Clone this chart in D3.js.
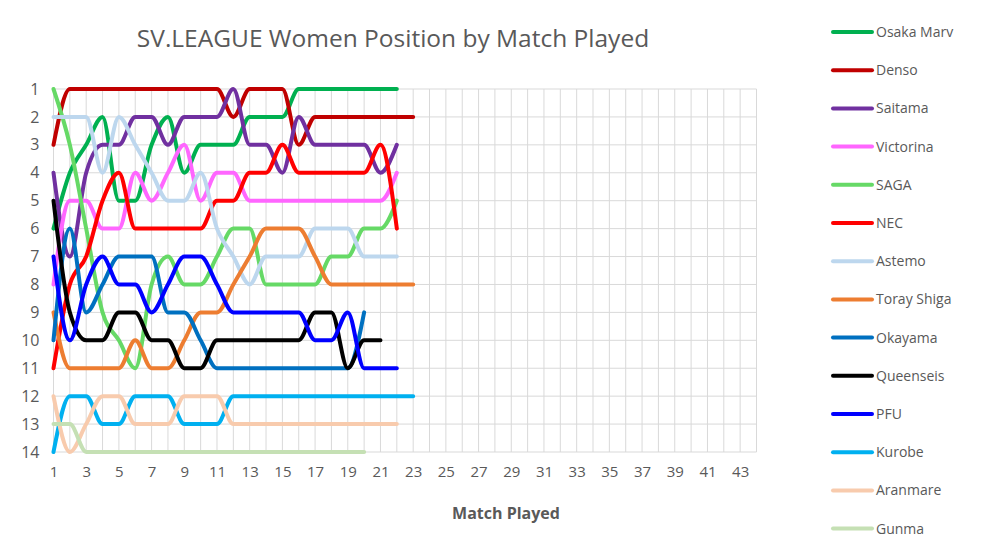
<!DOCTYPE html>
<html>
<head>
<meta charset="utf-8">
<script src="https://cdn.jsdelivr.net/npm/d3@7"></script>
<style>
  html, body { margin: 0; padding: 0; background: #ffffff; }
  svg { display: block; }
</style>
</head>
<body>
<svg id="chart" width="1000" height="559"></svg>
<script>
// ---- data ----
const title = "SV.LEAGUE Women Position by Match Played";
const xTitle = "Match Played";
const teams = ["Osaka Marv", "Denso", "Saitama", "Victorina", "SAGA", "NEC", "Astemo",
               "Toray Shiga", "Okayama", "Queenseis", "PFU", "Kurobe", "Aranmare", "Gunma"];
const colors = ["#00B050", "#C00000", "#7030A0", "#FF66FF", "#66D966", "#FF0000", "#BDD7EE",
                "#ED7D31", "#0070C0", "#000000", "#0000FF", "#00B0F0", "#F8CBAD", "#C5E0B4"];
const osakaMarv  = [6,4,3,2,5,5,3,2,4,3,3,3,2,2,2,1,1,1,1,1,1,1];
const denso      = [3,1,1,1,1,1,1,1,1,1,1,2,1,1,1,3,2,2,2,2,2,2,2];
const saitama    = [4,7,4,3,3,2,2,3,2,2,2,1,3,3,4,2,3,3,3,3,4,3];
const victorina  = [8,5,5,6,6,4,5,4,3,5,4,4,5,5,5,5,5,5,5,5,5,4];
const saga       = [1,3,6,9,10,11,8,7,8,8,7,6,6,8,8,8,8,7,7,6,6,5];
const nec        = [11,8,7,5,4,6,6,6,6,6,5,5,4,4,3,4,4,4,4,4,3,6];
const astemo     = [2,2,2,4,2,3,4,5,5,4,6,7,8,7,7,7,6,6,6,7,7,7];
const toray      = [9,11,11,11,11,10,11,11,10,9,9,8,7,6,6,6,7,8,8,8,8,8,8];
const okayama    = [10,6,9,8,7,7,7,9,9,10,11,11,11,11,11,11,11,11,11,9];
const queenseis  = [5,9,10,10,9,9,10,10,11,11,10,10,10,10,10,10,9,9,11,10,10];
const pfu        = [7,10,8,7,8,8,9,8,7,7,8,9,9,9,9,9,10,10,9,11,11,11];
const kurobe     = [14,12,12,13,13,12,12,12,13,13,13,12,12,12,12,12,12,12,12,12,12,12,12];
const aranmare   = [12,14,13,12,12,13,13,13,12,12,12,13,13,13,13,13,13,13,13,13,13,13];
const gunma      = [13,13,14,14,14,14,14,14,14,14,14,14,14,14,14,14,14,14,14,14];
const positions  = [1,2,3,4,5,6,7,8,9,10,11,12,13,14];
const matchTicks = d3.range(1, 44, 2);
const matchMax = 44;

const seriesValues = [osakaMarv, denso, saitama, victorina, saga, nec, astemo,
                      toray, okayama, queenseis, pfu, kurobe, aranmare, gunma];

// ---- layout ----
const svg = d3.select("#chart");
const textColor = "#595959";
const font = "'Open Sans', 'Liberation Sans', sans-serif";

const x = d3.scaleLinear().domain([1, matchMax]).range([53.5, 756.5]);
const y = d3.scaleLinear().domain([1, 14]).range([89, 452]);

// gridlines
const grid = svg.append("g");
grid.selectAll("line.v").data(d3.range(1, matchMax + 1)).join("line")
  .attr("x1", d => x(d)).attr("x2", d => x(d))
  .attr("y1", y(1)).attr("y2", y(14))
  .attr("stroke", "#D9D9D9").attr("stroke-width", 1);
grid.selectAll("line.h").data(positions).join("line")
  .attr("x1", x(1)).attr("x2", x(matchMax))
  .attr("y1", d => y(d)).attr("y2", d => y(d))
  .attr("stroke", "#D9D9D9").attr("stroke-width", 1);

// axes (labels only)
const yAxis = svg.append("g").attr("transform", `translate(${x(1)},0)`)
  .call(d3.axisLeft(y).tickValues(positions).tickSize(0).tickPadding(14));
yAxis.select(".domain").remove();
yAxis.selectAll("text").attr("fill", textColor).attr("font-size", 16).attr("font-family", font);

const xAxis = svg.append("g").attr("transform", `translate(0,${y(14)})`)
  .call(d3.axisBottom(x).tickValues(matchTicks).tickSize(0).tickPadding(14).tickFormat(d3.format("d")));
xAxis.select(".domain").remove();
xAxis.selectAll("text").attr("fill", textColor).attr("font-size", 15).attr("font-family", font);

// lines
const line = d3.line()
  .x((d, i) => x(i + 1))
  .y(d => y(d))
  .curve(d3.curveMonotoneX);

svg.append("g").selectAll("path").data(seriesValues).join("path")
  .attr("d", d => line(d))
  .attr("fill", "none")
  .attr("stroke", (d, i) => colors[i])
  .attr("stroke-width", 4)
  .attr("stroke-linejoin", "round")
  .attr("stroke-linecap", "round");

// title
svg.append("text").attr("x", 393).attr("y", 47).attr("text-anchor", "middle")
  .attr("fill", textColor).attr("font-size", 24.5).attr("font-family", font).text(title);

// x title
svg.append("text").attr("x", 506).attr("y", 519).attr("text-anchor", "middle")
  .attr("fill", textColor).attr("font-size", 16).attr("font-weight", "bold")
  .attr("font-family", font).text(xTitle);

// legend
const legend = svg.append("g");
const lg = legend.selectAll("g").data(teams).join("g")
  .attr("transform", (d, i) => `translate(0,${32 + i * 38.2})`);
lg.append("line").attr("x1", 833).attr("x2", 872).attr("y1", 0).attr("y2", 0)
  .attr("stroke", (d, i) => colors[i]).attr("stroke-width", 4).attr("stroke-linecap", "round");
lg.append("text").attr("x", 876).attr("y", 0).attr("dy", "0.35em")
  .attr("fill", textColor).attr("font-size", 14).attr("font-family", font).text(d => d);
</script>
</body>
</html>
